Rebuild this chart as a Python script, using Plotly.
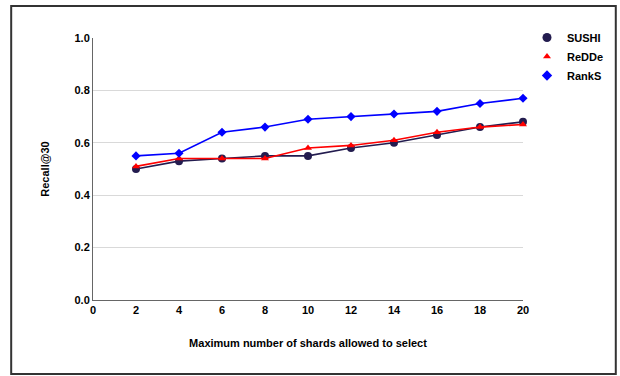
import plotly.graph_objects as go

x_shards = [2, 4, 6, 8, 10, 12, 14, 16, 18, 20]
sushi = [0.50, 0.53, 0.54, 0.55, 0.55, 0.58, 0.60, 0.63, 0.66, 0.68]
redde = [0.51, 0.54, 0.54, 0.54, 0.58, 0.59, 0.61, 0.64, 0.66, 0.67]
ranks = [0.55, 0.56, 0.64, 0.66, 0.69, 0.70, 0.71, 0.72, 0.75, 0.77]
x_ticks = [0, 2, 4, 6, 8, 10, 12, 14, 16, 18, 20]
y_ticks = [0.0, 0.2, 0.4, 0.6, 0.8, 1.0]

W, H = 620, 376
ML, MR, MT, MB = 93, 96, 38, 76
FONT = "Liberation Sans, Arial, sans-serif"

series = [
    ("SUSHI", sushi, "#231c4f", "circle", 8, 9),
    ("ReDDe", redde, "#ff0000", "triangle-up", 7, 7),
    ("RankS", ranks, "#0000ff", "diamond", 7, 8),
]

fig = go.Figure()
for name, vals, color, sym, size, lsize in series:
    fig.add_trace(go.Scatter(x=x_shards, y=vals, name=name, mode="lines+markers",
                             showlegend=False, cliponaxis=False, legendgroup=name,
                             line=dict(color=color, width=1.6),
                             marker=dict(symbol=sym, size=size, color=color)))
for name, vals, color, sym, size, lsize in series:
    fig.add_trace(go.Scatter(x=[None], y=[None], name=name, mode="markers",
                             legendgroup=name, showlegend=True,
                             marker=dict(symbol=sym, size=lsize, color=color)))

pw = W - ML - MR
ph = H - MT - MB
fig.add_shape(type="rect", xref="paper", yref="paper",
              x0=(11 - ML) / pw, x1=(617 - ML) / pw,
              y0=(H - MB - 374) / ph, y1=(H - MB - 6) / ph,
              line=dict(color="#333333", width=2), fillcolor="rgba(0,0,0,0)", layer="below")

fig.update_layout(
    width=W, height=H,
    margin=dict(l=ML, r=MR, t=MT, b=MB),
    paper_bgcolor="white", plot_bgcolor="white",
    font=dict(family=FONT, size=11, color="#000000"),
    showlegend=True,
    legend=dict(x=(527 - ML) / pw, y=(H - MB - 23) / ph, xanchor="left", yanchor="top",
                font=dict(family=FONT, size=11, color="#000000", weight="bold"),
                bgcolor="rgba(0,0,0,0)", tracegroupgap=0),
    xaxis=dict(range=[0, 20], tickvals=x_ticks, ticktext=[str(v) for v in x_ticks],
               showgrid=False, zeroline=False, showline=True, linecolor="#666666", linewidth=1,
               ticks="", tickfont=dict(family=FONT, size=11, weight="bold"),
               title=dict(text="Maximum number of shards allowed to select",
                          font=dict(family=FONT, size=11, weight="bold"), standoff=24)),
    yaxis=dict(range=[0, 1.0], tickvals=y_ticks, ticktext=[f"{v:.1f}" for v in y_ticks],
               showgrid=True, gridcolor="#d9d9d9", gridwidth=1, zeroline=False,
               showline=True, linecolor="#666666", linewidth=1,
               ticks="", tickfont=dict(family=FONT, size=11, weight="bold"),
               title=dict(text="Recall@30", font=dict(family=FONT, size=11, weight="bold"),
                          standoff=22)),
)

fig.write_html("out.html")
